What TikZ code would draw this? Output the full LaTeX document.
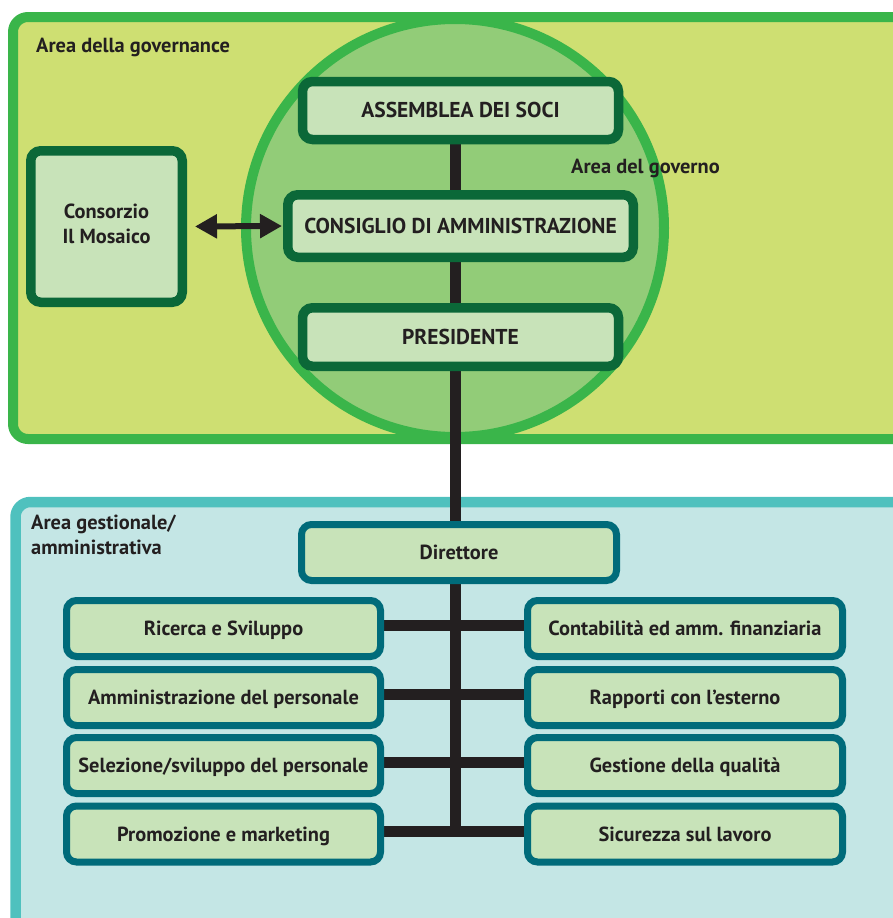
\documentclass[tikz,border=0pt]{standalone}
\usepackage{fontspec}
\setmainfont{PT Sans}
\usetikzlibrary{arrows.meta,calc}
\definecolor{govline}{RGB}{58,181,74}
\definecolor{govfill}{RGB}{206,223,114}
\definecolor{circfill}{RGB}{146,204,120}
\definecolor{govdark}{RGB}{11,104,56}
\definecolor{boxfill}{RGB}{200,227,185}
\definecolor{gestline}{RGB}{79,193,190}
\definecolor{gestfill}{RGB}{196,230,229}
\definecolor{gestdark}{RGB}{0,107,122}
\definecolor{txt}{RGB}{35,31,32}
\pgfdeclarelayer{areas}
\pgfdeclarelayer{lines}
\pgfsetlayers{areas,lines,main}
\tikzset{
  lbl/.style={font=\bfseries\fontsize{20.4}{25}\selectfont, text=txt, inner sep=0pt, anchor=base west},
  boxbase/.style={font=\bfseries\fontsize{20.4}{25}\selectfont, text=txt, inner sep=0pt},
  capsfont/.style={font=\bfseries\fontsize{21.5}{25}\selectfont},
  caps/.style={text height=14pt, text depth=0pt},
  govbox/.style={boxbase, draw=govdark, fill=boxfill, line width=9.5pt, rounded corners=10pt},
  gestbox/.style={boxbase, caps, draw=gestdark, fill=boxfill, line width=7pt, rounded corners=10pt, minimum width=314pt, minimum height=56pt},
  bar/.style={draw=txt, line width=11pt},
  arrowline/.style={draw=txt, line width=6pt, {Triangle[length=22pt,width=23pt]}-{Triangle[length=22pt,width=23pt]}, shorten <=8pt, shorten >=1pt}
}
\begin{document}
\begin{tikzpicture}[x=1pt,y=-1pt]
\useasboundingbox (0,0) rectangle (893,918);
\begin{pgfonlayer}{areas}
  \draw[line width=10pt, draw=govline, fill=govfill, rounded corners=15pt] (13,17) rectangle (915,439);
  \draw[line width=10pt, draw=govline, fill=circfill] (455,228) circle[radius=209];
  \draw[line width=10.5pt, draw=gestline, fill=gestfill, rounded corners=15pt] (15.5,502) rectangle (915,935);
\end{pgfonlayer}
% labels
\node[lbl] (lgov) at (36,52) {Area della governance};
\node[lbl] (lgovno) at (571,173) {Area del governo};
\node[lbl] (lgest1) at (31,529) {Area gestionale/};
\node[lbl] (lgest2) at (31,554) {amministrativa};
% governance boxes
\node[govbox, capsfont, caps, minimum width=316pt, minimum height=58pt] (asm) at (460.5,110.5) {ASSEMBLEA DEI SOCI};
\node[govbox, capsfont, caps, minimum width=345.5pt, minimum height=62.5pt] (cda) at (460.5,226) {CONSIGLIO DI AMMINISTRAZIONE};
\node[govbox, capsfont, caps, minimum width=316pt, minimum height=58.5pt] (pres) at (460.5,337) {PRESIDENTE};
\node[govbox, align=center, minimum width=151.5pt, minimum height=151.5pt] (cons) at (106.5,226.5) {Consorzio\\Il Mosaico\\[-19pt]\mbox{}};
% management boxes
\node[gestbox, minimum width=315pt] (dir) at (459,552.5) {Direttore};
\node[gestbox] (l1) at (223.5,628.5) {Ricerca e Sviluppo};
\node[gestbox] (l2) at (223.5,697.5) {Amministrazione del personale};
\node[gestbox] (l3) at (223.5,765.5) {Selezione/sviluppo del personale};
\node[gestbox] (l4) at (223.5,834) {Promozione e marketing};
\node[gestbox, minimum width=315pt] (r1) at (685,628.5) {Contabilità ed amm. finanziaria};
\node[gestbox, minimum width=315pt] (r2) at (685,697.5) {Rapporti con l’esterno};
\node[gestbox, minimum width=315pt] (r3) at (685,765.5) {Gestione della qualità};
\node[gestbox, minimum width=315pt] (r4) at (685,834) {Sicurezza sul lavoro};
\coordinate (spineEnd) at (455,836);
\begin{pgfonlayer}{lines}
  \draw[bar] (asm.south -| spineEnd) -- (spineEnd);
  \draw[bar] ([yshift=3pt]l1.east) -- ([yshift=3pt]r1.west);
  \draw[bar] ([yshift=3pt]l2.east) -- ([yshift=3pt]r2.west);
  \draw[bar] ([yshift=3pt]l3.east) -- ([yshift=3pt]r3.west);
  \draw[bar] ([yshift=3pt]l4.east) -- ([yshift=3pt]r4.west);
\end{pgfonlayer}
\draw[arrowline] (cons.east) -- (cda.west);
\end{tikzpicture}
\end{document}
